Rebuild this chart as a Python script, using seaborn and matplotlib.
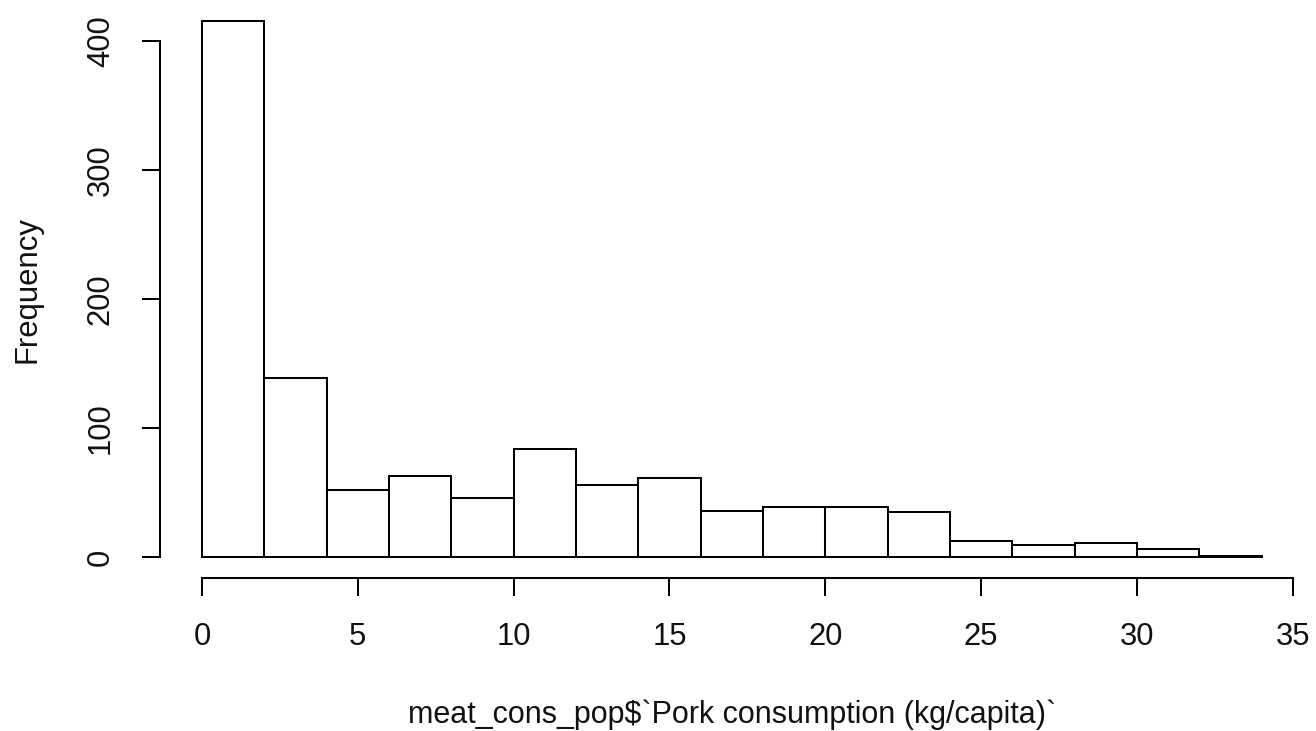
import numpy as np
import pandas as pd
import matplotlib
matplotlib.use("Agg")
import matplotlib.pyplot as plt
import seaborn as sns

# Histogram of pork consumption: bin edges (kg/capita) and counts per bin
bin_edges = [0, 2, 4, 6, 8, 10, 12, 14, 16, 18, 20, 22, 24, 26, 28, 30, 32, 34]
counts = [415, 139, 52, 63, 46, 84, 56, 61, 36, 39, 39, 35, 12, 9, 11, 6, 1]
x_ticks = [0, 5, 10, 15, 20, 25, 30, 35]
y_ticks = [0, 100, 200, 300, 400]

sns.set_theme(style="white")
plt.rcParams["font.family"] = ["Liberation Sans", "DejaVu Sans"]

edges = np.array(bin_edges, dtype=float)
df = pd.DataFrame({
    "pork": (edges[:-1] + edges[1:]) / 2,
    "n": counts,
})

W, H, DPI = 1316, 731, 100
fig = plt.figure(figsize=(W / DPI, H / DPI), dpi=DPI)
fig.patch.set_facecolor("white")

# plot region in pixels (R-style 4% padding around data range)
left_px, right_px = 159.6, 1304.0
top_px, bottom_px = 0.0, 578.4
ax = fig.add_axes([left_px / W, 1 - bottom_px / H,
                   (right_px - left_px) / W, (bottom_px - top_px) / H])
ax.set_facecolor("white")

lw = 1.45
sns.histplot(data=df, x="pork", weights="n", bins=list(bin_edges), ax=ax,
             color="white", edgecolor="black", linewidth=lw, alpha=1.0)

xmin, xmax = edges[0], edges[-1]
xr = xmax - xmin
ymax = max(counts)
ax.set_xlim(xmin - 0.04 * xr, xmax + 0.04 * xr)
ax.set_ylim(-0.04 * ymax, ymax * 1.04)

for s in ["top", "right"]:
    ax.spines[s].set_visible(False)
for s in ["left", "bottom"]:
    ax.spines[s].set_color("black")
    ax.spines[s].set_linewidth(lw)
ax.spines["left"].set_bounds(y_ticks[0], y_ticks[-1])
ax.spines["bottom"].set_bounds(x_ticks[0], x_ticks[-1])

fs = 22.3
ax.set_xticks(x_ticks)
ax.set_yticks(y_ticks)
ax.set_xticklabels([str(v) for v in x_ticks], fontsize=fs, color="#111111")
ax.set_yticklabels([str(v) for v in y_ticks], fontsize=fs, color="#111111",
                   rotation=90, va="center")
ax.tick_params(axis="both", which="major", direction="out", length=13,
               width=lw, color="black", pad=18.5, bottom=True, left=True)

ax.set_xlabel("meat_cons_pop$`Pork consumption (kg/capita)`", fontsize=22,
              color="#111111", labelpad=34)
ax.set_ylabel("Frequency", fontsize=fs, color="#111111", labelpad=31.5)
ax.grid(False)

fig.savefig("out.png", dpi=DPI, facecolor="white")
